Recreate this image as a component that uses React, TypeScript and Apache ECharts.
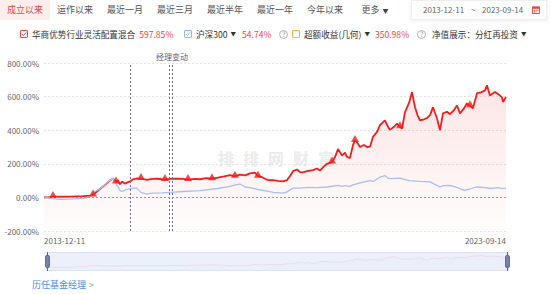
import React, { useEffect, useRef } from 'react';
import * as echarts from 'echarts';

const FONT = "'Noto Sans CJK SC', 'Noto Sans', sans-serif";

// 华商优势行业灵活配置混合 cumulative return (%)
const fundDates = [
  '2013-12-11', '2014-01-26', '2014-02-18', '2014-04-13', '2014-06-30', '2014-10-08', '2014-12-01', '2014-12-24',
  '2015-01-24', '2015-02-16', '2015-03-19', '2015-04-11', '2015-05-04', '2015-05-27', '2015-06-19', '2015-07-05',
  '2015-07-20', '2015-08-05', '2015-08-28', '2015-09-12', '2015-10-05', '2015-10-29', '2015-11-28', '2015-12-29',
  '2016-02-14', '2016-03-23', '2016-05-01', '2016-06-08', '2016-07-01', '2016-08-09', '2016-09-24', '2016-11-17',
  '2016-12-26', '2017-02-18', '2017-03-28', '2017-05-14', '2017-06-29', '2017-08-14', '2017-09-30', '2017-11-15',
  '2017-12-23', '2018-01-31', '2018-03-11', '2018-04-18', '2018-05-27', '2018-06-19', '2018-07-20', '2018-08-20',
  '2018-09-19', '2018-10-13', '2018-11-20', '2018-12-29', '2019-01-29', '2019-02-21', '2019-03-16', '2019-04-16',
  '2019-05-09', '2019-06-01', '2019-07-02', '2019-08-17', '2019-09-17', '2019-10-10', '2019-11-10', '2019-12-03',
  '2020-01-11', '2020-02-03', '2020-02-26', '2020-03-28', '2020-04-20', '2020-05-05', '2020-05-28', '2020-06-21',
  '2020-07-06', '2020-07-21', '2020-08-14', '2020-09-13', '2020-10-07', '2020-10-30', '2020-11-22', '2020-12-23',
  '2021-01-15', '2021-02-22', '2021-03-18', '2021-04-02', '2021-05-03', '2021-05-26', '2021-06-18', '2021-07-04',
  '2021-07-27', '2021-08-27', '2021-09-19', '2021-10-12', '2021-11-04', '2021-11-19', '2021-12-20', '2022-01-13',
  '2022-02-05', '2022-02-28', '2022-03-31', '2022-04-23', '2022-05-16', '2022-06-16', '2022-07-09', '2022-08-09',
  '2022-09-01', '2022-09-24', '2022-10-25', '2022-11-17', '2022-12-10', '2023-01-02', '2023-02-02', '2023-03-05',
  '2023-04-05', '2023-04-20', '2023-05-13', '2023-06-06', '2023-06-21', '2023-07-14', '2023-08-14', '2023-08-22',
  '2023-09-14',
];
const fundValues = [
  0, 2, 5, 4, 5, 8, 10, 15,
  35, 50, 70, 85, 100, 112, 92, 102,
  78, 95, 82, 88, 95, 108, 113, 112,
  104, 110, 111, 108, 106, 110, 112, 110,
  106, 110, 108, 115, 111, 118, 125, 133,
  126, 136, 131, 143, 148, 126, 120, 108,
  102, 103, 98, 95, 103, 128, 156, 166,
  150, 149, 156, 162, 172, 160, 185, 200,
  210, 240, 288, 250, 266, 242, 234, 312,
  338, 330, 300, 312, 300, 302, 360, 390,
  430, 458, 420, 402, 420, 440, 420, 410,
  508, 562, 627, 537, 482, 458, 465, 472,
  490, 537, 470, 400, 500, 510, 495, 520,
  547, 500, 530, 560, 545, 530, 620, 625,
  637, 667, 607, 620, 627, 615, 597, 567,
  597.85,
];

// 沪深300 cumulative return (%)
const hs300Dates = [
  '2013-12-11', '2014-01-26', '2014-04-13', '2014-06-30', '2014-10-08', '2014-12-01', '2014-12-24', '2015-02-16',
  '2015-04-11', '2015-05-27', '2015-06-19', '2015-07-20', '2015-08-05', '2015-09-12', '2015-10-29', '2015-11-28',
  '2015-12-29', '2016-02-14', '2016-03-23', '2016-06-08', '2016-08-09', '2016-11-17', '2017-03-28', '2017-08-14',
  '2017-11-15', '2018-01-31', '2018-03-11', '2018-04-18', '2018-06-19', '2018-09-19', '2018-10-13', '2018-12-29',
  '2019-01-29', '2019-03-16', '2019-05-09', '2019-07-02', '2019-09-17', '2019-12-03', '2020-02-26', '2020-03-28',
  '2020-04-20', '2020-05-28', '2020-06-21', '2020-09-13', '2020-10-30', '2020-11-22', '2021-01-15', '2021-02-22',
  '2021-03-18', '2021-04-02', '2021-06-18', '2021-08-27', '2021-11-19', '2022-02-05', '2022-04-23', '2022-05-16',
  '2022-07-09', '2022-09-01', '2022-10-25', '2022-12-10', '2023-02-02', '2023-04-05', '2023-05-13', '2023-07-14',
  '2023-08-14', '2023-09-14',
];
const hs300Values = [
  0, -5, -12, -10, -6, 2, 30, 50,
  88, 115, 82, 42, 35, 48, 55, 55,
  30, 20, 25, 27, 30, 35, 40, 53,
  65, 80, 62, 58, 47, 35, 30, 25,
  33, 55, 55, 60, 58, 62, 72, 65,
  70, 66, 75, 92, 100, 95, 120, 130,
  115, 112, 115, 100, 95, 92, 62, 70,
  72, 60, 42, 50, 62, 58, 53, 58,
  52, 54.74,
];

// triangle markers on the fund line
const triangleDates = [
  '2014-02-18', '2014-12-24', '2015-06-19', '2015-12-29', '2016-07-01', '2016-12-26', '2017-06-29',
  '2017-12-23', '2018-06-19', '2020-01-11', '2020-07-06', '2021-06-18', '2022-12-10',
];

const managerChangeDates = ['2015-10-05', '2016-08-01', '2016-08-24'];
const managerChangeLabel = '经理变动';
const xTickLabels = ['2013-12-11', '2023-09-14'];
const yMin = -200;
const yMax = 800;
const yStep = 200;

const tabs = ['成立以来', '运作以来', '最近一月', '最近三月', '最近半年', '最近一年', '今年以来', '更多'];
const fundName = '华商优势行业灵活配置混合';
const fundReturn = '597.85%';
const benchName = '沪深300';
const benchReturn = '54.74%';
const excessName = '超额收益(几何)';
const excessReturn = '350.98%';
const navLabel = '净值展示：分红再投资';
const dateFrom = '2013-12-11';
const dateTo = '2023-09-14';
const watermark = '排排网财富';
const managerLink = '历任基金经理';

const RED = '#f31d1d';
const TXT_RED = '#e8473f';

const ts = (d: string) => echarts.time.parse(d).getTime();
const pad = (n: number) => (n < 10 ? '0' + n : '' + n);
const fmtDate = (v: number) => {
  const dt = new Date(v);
  return dt.getFullYear() + '-' + pad(dt.getMonth() + 1) + '-' + pad(dt.getDate());
};

const T = ({ left, top, color = '#333', size = 9, children, style = {} }: any) => (
  <div
    style={{
      position: 'absolute', left, top, color, fontSize: size, lineHeight: '12px',
      whiteSpace: 'nowrap', ...style,
    }}
  >
    {children}
  </div>
);

const CheckBox = ({ color, checked }: any) => (
  <svg style={{ flex: 'none', marginRight: 4 }} width="8" height="8" viewBox="0 0 8 8">
    <rect x="0.5" y="0.5" width="7" height="7" rx="0.6" fill="#fff" stroke={color} strokeWidth="1" />
    {checked && <polyline points="1.8,4 3.4,5.6 6.2,2.4" fill="none" stroke={color} strokeWidth="1" />}
  </svg>
);

const Question = () => (
  <span
    style={{
      display: 'inline-block', flex: 'none', width: 9, height: 9, borderRadius: '50%', marginLeft: 8,
      border: '1px solid #b5b5b5', boxSizing: 'border-box', color: '#999', fontSize: 7,
      lineHeight: '7px', textAlign: 'center',
    }}
  >
    ?
  </span>
);

const Arrow = () => <span style={{ fontSize: 5.5, marginLeft: 3, color: '#333' }}>▼</span>;

const Row = ({ left, children }: any) => (
  <div
    style={{
      position: 'absolute', left, top: 28, height: 12, display: 'flex', alignItems: 'center',
      fontSize: 8.6, color: '#333', whiteSpace: 'nowrap', lineHeight: '12px',
    }}
  >
    {children}
  </div>
);

export default function App() {
  const ref = useRef<HTMLDivElement>(null);

  useEffect(() => {
    if (!ref.current) return;
    const chart = echarts.init(ref.current, undefined, { renderer: 'svg' });
    const fundData = fundDates.map((d, i) => [ts(d), fundValues[i]]);
    const benchData = hs300Dates.map((d, i) => [ts(d), hs300Values[i]]);
    const triData = triangleDates.map((d) => [ts(d), fundValues[fundDates.indexOf(d)]]);
    const xMin = ts(xTickLabels[0]);
    const xMax = ts(xTickLabels[xTickLabels.length - 1]);
    const bgStyle = {
      lineStyle: { color: 'rgba(240,120,120,0.35)', width: 0.6 },
      areaStyle: { color: 'rgba(240,150,150,0.06)' },
    };
    chart.setOption({
      animation: false,
      textStyle: { fontFamily: FONT },
      grid: { left: 44, right: 44, top: 63, bottom: 63 },
      xAxis: {
        type: 'value',
        min: xMin,
        max: xMax,
        axisLine: { show: false },
        axisTick: { show: false },
        splitLine: { show: false },
        axisLabel: {
          customValues: xTickLabels.map(ts),
          formatter: (v: number) => fmtDate(v),
          alignMinLabel: 'left',
          alignMaxLabel: 'right',
          color: '#666',
          fontSize: 8,
          margin: 5,
        },
      },
      yAxis: {
        type: 'value',
        min: yMin,
        max: yMax,
        interval: yStep,
        axisLine: { show: false },
        axisTick: { show: false },
        axisLabel: {
          formatter: (v: number) => v.toFixed(2) + '%',
          color: '#666',
          fontSize: 8,
          margin: 5,
        },
        splitLine: { lineStyle: { type: [2, 2], color: '#e2e2e2' } },
      },
      dataZoom: [
        {
          type: 'slider',
          xAxisIndex: 0,
          start: 0,
          end: 100,
          left: 44,
          right: 44,
          top: 252,
          height: 19,
          showDetail: false,
          brushSelect: false,
          moveHandleSize: 0,
          borderColor: '#dde2ee',
          backgroundColor: '#f4f7fd',
          fillerColor: 'rgba(215,225,248,0.3)',
          handleSize: '100%',
          handleStyle: { color: '#7d82aa', borderColor: '#5d628e' },
          dataBackground: bgStyle,
          selectedDataBackground: bgStyle,
        },
      ],
      series: [
        {
          type: 'line',
          name: fundName,
          data: fundData,
          showSymbol: false,
          symbol: 'none',
          lineStyle: { color: RED, width: 1.8 },
          itemStyle: { color: RED },
          areaStyle: {
            origin: 'start',
            color: new echarts.graphic.LinearGradient(0, 0, 0, 1, [
              { offset: 0, color: 'rgba(240,70,70,0.2)' },
              { offset: 1, color: 'rgba(240,70,70,0.02)' },
            ]),
          },
          markLine: {
            silent: true,
            symbol: ['none', 'none'],
            lineStyle: { type: [2, 2], color: '#6a6e96', width: 1 },
            label: { show: false },
            data: managerChangeDates.map((d, i) => ({
              xAxis: ts(d),
              label: i === managerChangeDates.length - 1
                ? { show: true, position: 'end', formatter: managerChangeLabel, color: '#5a5f86', fontSize: 8, distance: 3 }
                : { show: false },
            })),
          },
          z: 2,
        },
        {
          type: 'line',
          name: benchName,
          data: benchData,
          showSymbol: false,
          symbol: 'none',
          lineStyle: { color: '#aabff0', width: 1.3 },
          itemStyle: { color: '#aabff0' },
          markLine: {
            silent: true,
            symbol: ['none', 'none'],
            lineStyle: { type: [2, 2], color: '#9a9a9a', width: 1 },
            label: { show: false },
            data: [{ yAxis: 0 }],
          },
          z: 3,
        },
        {
          type: 'scatter',
          data: triData,
          symbol: 'triangle',
          symbolSize: [8, 7],
          symbolOffset: [0, -2],
          itemStyle: { color: RED },
          z: 4,
        },
      ],
    });
    return () => chart.dispose();
  }, []);

  return (
    <div
      style={{
        position: 'fixed', left: 0, top: 0, width: 550, height: 294, background: '#fff',
        fontFamily: FONT, overflow: 'hidden',
      }}
    >
      {/* watermark */}
      <div
        style={{
          position: 'absolute', left: 218, top: 150, fontSize: 16, lineHeight: '16px', fontWeight: 700,
          letterSpacing: 9, color: '#ebebeb', whiteSpace: 'nowrap',
        }}
      >
        {watermark}
      </div>
      <div ref={ref} style={{ position: 'absolute', left: 0, top: 0, width: 550, height: 294 }} />

      {/* tabs */}
      {tabs.map((t, i) => (
        <div
          key={t}
          style={{
            position: 'absolute', left: i * 50, top: 0, width: 50, height: 20, lineHeight: '20px',
            textAlign: 'center', fontSize: 9, color: i === 0 ? TXT_RED : '#555',
            background: i === 0 ? '#fdeeee' : 'transparent', whiteSpace: 'nowrap',
          }}
        >
          {t}
          {i === tabs.length - 1 && <span style={{ fontSize: 6, marginLeft: 3, color: '#444' }}>▼</span>}
        </div>
      ))}

      {/* date range */}
      <div
        style={{
          position: 'absolute', left: 411, top: 0, width: 136, height: 20, boxSizing: 'border-box',
          border: '1px solid #efefef', boxShadow: '0 1px 4px rgba(0,0,0,0.08)', background: '#fff',
        }}
      />
      <T left={423} top={4} color="#666" size={8}>{dateFrom}</T>
      <T left={471} top={4} color="#666" size={8}>~</T>
      <T left={482} top={4} color="#666" size={8}>{dateTo}</T>
      <svg style={{ position: 'absolute', left: 532, top: 6 }} width="8" height="8" viewBox="0 0 8 8">
        <rect x="0.5" y="1" width="7" height="6.5" fill="none" stroke={TXT_RED} strokeWidth="0.9" />
        <rect x="0.5" y="1" width="7" height="1.8" fill={TXT_RED} />
        <line x1="2.3" y1="0" x2="2.3" y2="1.6" stroke={TXT_RED} strokeWidth="0.9" />
        <line x1="5.7" y1="0" x2="5.7" y2="1.6" stroke={TXT_RED} strokeWidth="0.9" />
        <rect x="1.8" y="3.8" width="1.2" height="1" fill={TXT_RED} />
        <rect x="3.5" y="3.8" width="1.2" height="1" fill={TXT_RED} />
        <rect x="5.2" y="3.8" width="1.2" height="1" fill={TXT_RED} />
        <rect x="1.8" y="5.5" width="1.2" height="1" fill={TXT_RED} />
        <rect x="3.5" y="5.5" width="1.2" height="1" fill={TXT_RED} />
      </svg>

      {/* legend row */}
      <Row left={20}>
        <CheckBox color={TXT_RED} checked />
        <span>{fundName}</span>
        <span style={{ color: TXT_RED, marginLeft: 4 }}>{fundReturn}</span>
      </Row>
      <Row left={184}>
        <CheckBox color="#8fb3f0" checked />
        <span>{benchName}</span>
        <Arrow />
        <span style={{ color: TXT_RED, marginLeft: 6 }}>{benchReturn}</span>
        <Question />
      </Row>
      <Row left={292}>
        <CheckBox color="#f5b342" checked={false} />
        <span>{excessName}</span>
        <Arrow />
        <span style={{ color: TXT_RED, marginLeft: 5 }}>{excessReturn}</span>
        <Question />
      </Row>
      <Row left={432}>
        <span>{navLabel}</span>
        <Arrow />
      </Row>

      {/* bottom link */}
      <T left={32} top={279} color="#4a8ee8">{managerLink}</T>
      <T left={89} top={279} color="#999">&gt;</T>
    </div>
  );
}
